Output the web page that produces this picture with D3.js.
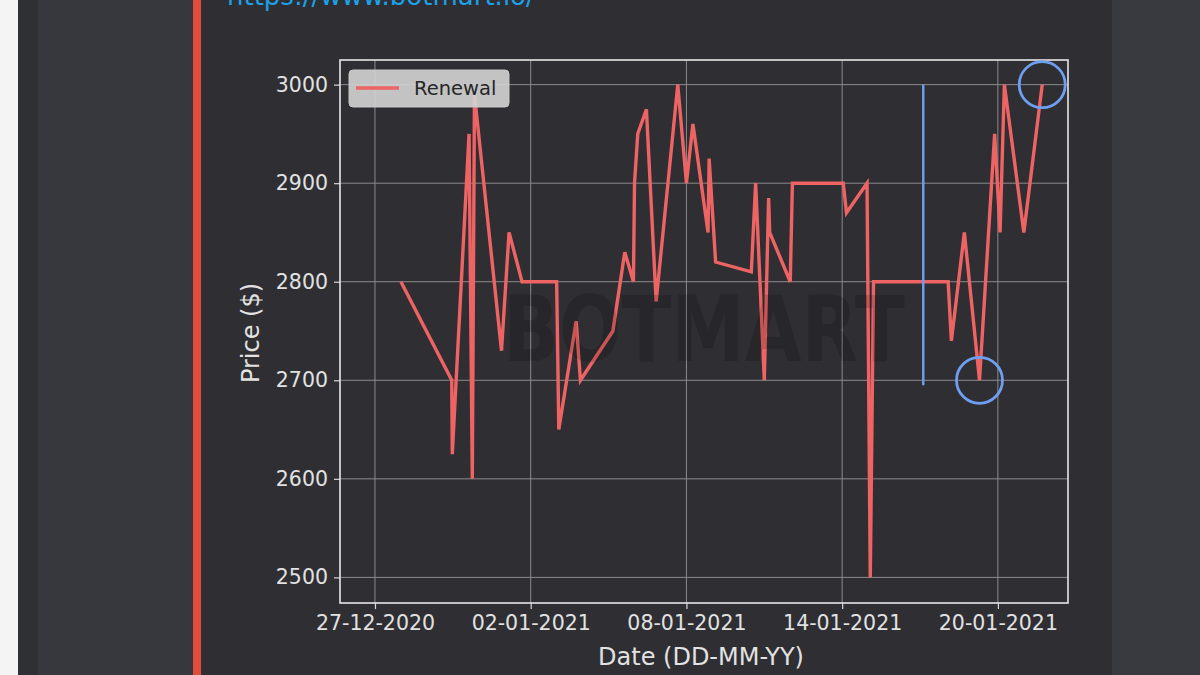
<!DOCTYPE html>
<html>
<head>
<meta charset="utf-8">
<script src="https://cdn.jsdelivr.net/npm/d3@7"></script>
<style>
  html, body { margin: 0; padding: 0; background: #2e2e33; }
  svg { display: block; }
  text { font-family: "DejaVu Sans", sans-serif; }
</style>
</head>
<body>
<div id="chart"></div>
<script>
// Renewal price series (date-time, price in $)
const dates = [
  "2020-12-28 00:00", "2020-12-29 23:00", "2020-12-29 23:30", "2020-12-30 15:00",
  "2020-12-30 18:00", "2020-12-30 20:00", "2020-12-31 21:00", "2021-01-01 04:00",
  "2021-01-01 16:00", "2021-01-03 00:00", "2021-01-03 02:00", "2021-01-03 18:00",
  "2021-01-03 22:00", "2021-01-05 04:00", "2021-01-05 15:00", "2021-01-05 23:00",
  "2021-01-06 00:00", "2021-01-06 03:00", "2021-01-06 11:00", "2021-01-06 20:00",
  "2021-01-07 16:00", "2021-01-08 00:00", "2021-01-08 06:00", "2021-01-08 20:00",
  "2021-01-08 21:00", "2021-01-09 03:00", "2021-01-10 12:00", "2021-01-10 16:00",
  "2021-01-11 00:00", "2021-01-11 04:00", "2021-01-11 05:00", "2021-01-12 00:00",
  "2021-01-12 02:00", "2021-01-14 01:00", "2021-01-14 04:00", "2021-01-14 23:00",
  "2021-01-15 02:00", "2021-01-15 05:00", "2021-01-18 02:00", "2021-01-18 05:00",
  "2021-01-18 17:00", "2021-01-19 07:00", "2021-01-19 21:00", "2021-01-20 02:00",
  "2021-01-20 06:00", "2021-01-21 00:00", "2021-01-21 17:00"
];
const prices = [
  2800, 2700, 2625, 2950,
  2600, 2990, 2730, 2850,
  2800, 2800, 2650, 2760,
  2700, 2750, 2830, 2800,
  2900, 2950, 2975, 2780,
  3000, 2900, 2960, 2850,
  2925, 2820, 2810, 2900,
  2700, 2885, 2850, 2800,
  2900, 2900, 2870, 2900,
  2500, 2800, 2800, 2740,
  2850, 2700, 2950, 2850,
  3000, 2850, 3000
];

// Vertical marker line and highlighted points
const markerDate = "2021-01-17 03:00";
const markerRange = [2695, 3000];
const highlightDates = ["2021-01-19 07:00", "2021-01-21 17:00"];
const highlightPrices = [2700, 3000];

// Axis ticks
const xTickDates = ["2020-12-27 00:00", "2021-01-02 00:00", "2021-01-08 00:00", "2021-01-14 00:00", "2021-01-20 00:00"];
const yTicks = [2500, 2600, 2700, 2800, 2900, 3000];
const xDomain = ["2020-12-25 15:40", "2021-01-22 16:50"];
const yDomain = [2474, 3025];

const parse = d3.timeParse("%Y-%m-%d %H:%M");
const fmt = d3.timeFormat("%d-%m-%Y");
const data = dates.map((d, i) => ({ date: parse(d), price: prices[i] }));

const W = 1200, H = 675;
const margin = { top: 60, right: 132, bottom: 72, left: 340 };
const width = W - margin.left - margin.right,
      height = H - margin.top - margin.bottom;

const svg = d3.select("#chart").append("svg")
    .attr("width", W)
    .attr("height", H);

// Page frame around the chart
svg.append("rect").attr("x", 0).attr("y", 0).attr("width", W).attr("height", H).attr("fill", "#2e2e33");
svg.append("rect").attr("x", 0).attr("y", 0).attr("width", 18).attr("height", H).attr("fill", "#f4f4f5");
svg.append("rect").attr("x", 18).attr("y", 0).attr("width", 20).attr("height", H).attr("fill", "#2f3034");
svg.append("rect").attr("x", 38).attr("y", 0).attr("width", 155).attr("height", H).attr("fill", "#37383d");
svg.append("rect").attr("x", 193).attr("y", 0).attr("width", 8).attr("height", H).attr("fill", "#e24c3b");
svg.append("rect").attr("x", 1112).attr("y", 0).attr("width", 88).attr("height", H).attr("fill", "#393a3f");

// Link text, cut by the top edge as in the screenshot
svg.append("text")
    .attr("x", 227).attr("y", 5)
    .attr("fill", "#1da1e6")
    .attr("font-size", 26)
    .text("https://www.botmart.io/");

const g = svg.append("g")
    .attr("transform", `translate(${margin.left},${margin.top})`);

const x = d3.scaleTime()
    .domain(xDomain.map(parse))
    .range([0, width]);

const y = d3.scaleLinear()
    .domain(yDomain)
    .range([height, 0]);

// Grid
g.append("g")
  .selectAll("line")
  .data(xTickDates.map(parse))
  .join("line")
    .attr("x1", d => x(d)).attr("x2", d => x(d))
    .attr("y1", 0).attr("y2", height)
    .attr("stroke", "#8c8c8f").attr("stroke-width", 1);

g.append("g")
  .selectAll("line")
  .data(yTicks)
  .join("line")
    .attr("x1", 0).attr("x2", width)
    .attr("y1", d => y(d)).attr("y2", d => y(d))
    .attr("stroke", "#8c8c8f").attr("stroke-width", 1);

// Axes
const xAxis = g.append("g")
    .attr("transform", `translate(0,${height})`)
    .call(d3.axisBottom(x).tickValues(xTickDates.map(parse)).tickFormat(fmt).tickSize(6).tickPadding(6));

const yAxis = g.append("g")
    .call(d3.axisLeft(y).tickValues(yTicks).tickFormat(d3.format("d")).tickSize(6).tickPadding(6));

[xAxis, yAxis].forEach(a => {
  a.select(".domain").remove();
  a.selectAll("line").attr("stroke", "#d8d8d8").attr("stroke-width", 1.2);
  a.selectAll("text").attr("fill", "#e2e2e2").attr("font-size", 20.5)
    .attr("font-family", "DejaVu Sans, sans-serif");
});

// Frame
g.append("rect")
    .attr("x", 0).attr("y", 0)
    .attr("width", width).attr("height", height)
    .attr("fill", "none")
    .attr("stroke", "#e6e6e6").attr("stroke-width", 1.6);

// Renewal line
const line = d3.line()
    .x(d => x(d.date))
    .y(d => y(d.price));

g.append("path")
    .datum(data)
    .attr("d", line)
    .attr("fill", "none")
    .attr("stroke", "#ee6363")
    .attr("stroke-width", 3.4)
    .attr("stroke-linejoin", "miter");

// Marker line
g.append("line")
    .attr("x1", x(parse(markerDate))).attr("x2", x(parse(markerDate)))
    .attr("y1", y(markerRange[0])).attr("y2", y(markerRange[1]))
    .attr("stroke", "#6e9ff0").attr("stroke-width", 2.4);

// Highlight circles
g.append("g")
  .selectAll("circle")
  .data(highlightDates.map((d, i) => ({ date: parse(d), price: highlightPrices[i] })))
  .join("circle")
    .attr("cx", d => x(d.date))
    .attr("cy", d => y(d.price))
    .attr("r", 23)
    .attr("fill", "none")
    .attr("stroke", "#6e9ff0")
    .attr("stroke-width", 2.8);

// Watermark
g.append("text")
    .attr("x", 163).attr("y", 301)
    .attr("font-size", 90)
    .attr("font-weight", "bold")
    .attr("textLength", 402)
    .attr("lengthAdjust", "spacingAndGlyphs")
    .attr("fill", "#000")
    .attr("fill-opacity", 0.15)
    .text("BOTMART");

// Legend
const legend = g.append("g").attr("transform", "translate(9,10)");
legend.append("rect")
    .attr("width", 160).attr("height", 37)
    .attr("rx", 4)
    .attr("fill", "#d4d4d4").attr("fill-opacity", 0.9)
    .attr("stroke", "#c8c8c8");
legend.append("line")
    .attr("x1", 7).attr("x2", 50)
    .attr("y1", 18).attr("y2", 18)
    .attr("stroke", "#ee6363").attr("stroke-width", 3.4);
legend.append("text")
    .attr("x", 65).attr("y", 25)
    .attr("font-size", 19.5)
    .attr("fill", "#262626")
    .text("Renewal");

// Axis labels
svg.append("text")
    .attr("x", margin.left + width / 2 - 3)
    .attr("y", 665)
    .attr("text-anchor", "middle")
    .attr("font-size", 24)
    .attr("fill", "#e2e2e2")
    .text("Date (DD-MM-YY)");

svg.append("text")
    .attr("transform", `translate(259,333) rotate(-90)`)
    .attr("text-anchor", "middle")
    .attr("font-size", 24)
    .attr("fill", "#e2e2e2")
    .text("Price ($)");
</script>
</body>
</html>
